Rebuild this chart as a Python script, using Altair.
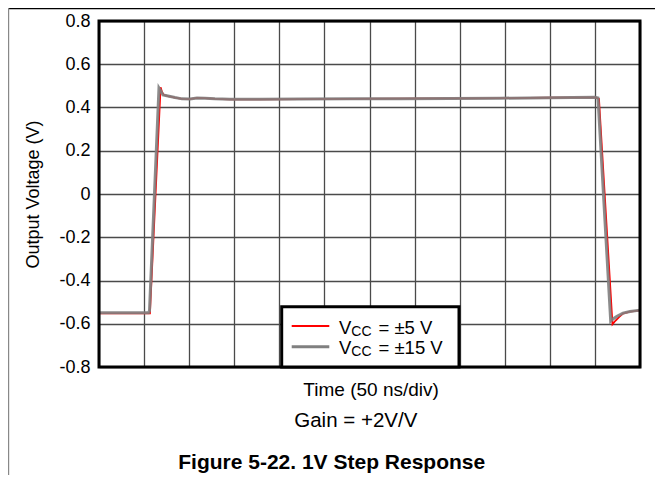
import altair as alt
import pandas as pd

# ---- data (time in ns, 50 ns/div, voltage in V) ----
gray_t = [0, 54.9, 56.0, 66.5, 68.2, 71.0, 76.5, 84.3, 92.0, 100.9, 108.7, 117.6, 128.6,
          145.3, 178.5, 222.9, 278.4, 333.8, 389.3, 444.7, 500.2, 550.1, 553.4,
          567.5, 570.0, 574.5, 581.1, 588.9, 600]
gray_v = [-0.549, -0.549, -0.540, 0.490, 0.478, 0.458, 0.453, 0.446, 0.440, 0.439, 0.444,
          0.443, 0.440, 0.438, 0.438, 0.439, 0.440, 0.441, 0.442, 0.443, 0.445, 0.447,
          0.444, -0.588, -0.578, -0.565, -0.551, -0.543, -0.537]

red_t = [0, 56.5, 68.3, 70.0, 72.0, 76.5, 84.3, 92.0, 100.9, 108.7, 117.6, 128.6,
         145.3, 178.5, 222.9, 278.4, 333.8, 389.3, 444.7, 500.2, 550.1, 554.5,
         569.5, 573.0, 577.0, 581.1, 588.9, 600]
red_v = [-0.552, -0.552, 0.493, 0.470, 0.458, 0.453, 0.446, 0.440, 0.439, 0.444,
         0.443, 0.440, 0.438, 0.438, 0.439, 0.440, 0.441, 0.442, 0.443, 0.445, 0.447,
         0.440, -0.602, -0.585, -0.568, -0.553, -0.544, -0.538]

y_ticks = [-0.8, -0.6, -0.4, -0.2, 0, 0.2, 0.4, 0.6, 0.8]
x_grid = [0, 50, 100, 150, 200, 250, 300, 350, 400, 450, 500, 550, 600]

series_names = ["VCC = ±5 V", "VCC = ±15 V"]
series_colors = ["#ff0000", "#808080"]
legend_rest = ["= ±5 V", "= ±15 V"]

x_title = "Time (50 ns/div)"
y_title = "Output Voltage (V)"
gain_text = "Gain = +2V/V"
caption = "Figure 5-22. 1V Step Response"

FONT = "Liberation Sans"
W, H = 541, 346
PAD = {"left": 91, "top": 13, "right": 15, "bottom": 108}

df_red = pd.DataFrame({"t": red_t, "v": red_v, "s": series_names[0]})
df_gray = pd.DataFrame({"t": gray_t, "v": gray_v, "s": series_names[1]})

x_enc = alt.X("t:Q", scale=alt.Scale(domain=[0, 600], nice=False, zero=False),
              axis=alt.Axis(values=x_grid, labels=False, ticks=False, tickSize=0, domain=False,
                            grid=True, gridColor="#4a4a4a", gridWidth=1.3,
                            title=x_title, titleFont=FONT, titleFontSize=19,
                            titleFontWeight="normal", titleColor="#000",
                            titleBaseline="alphabetic", titleX=271.6, titleY=28.5))
y_enc = alt.Y("v:Q", scale=alt.Scale(domain=[-0.8, 0.8], nice=False, zero=False),
              axis=alt.Axis(values=y_ticks, ticks=False, tickSize=0, domain=False,
                            labelExpr="datum.value == 0 ? '0' : (datum.value < 0 ? '-' : '') + format(abs(datum.value), '.1f')",
                            labelFont=FONT, labelFontSize=18, labelColor="#000", labelPadding=9,
                            grid=True, gridColor="#4a4a4a", gridWidth=1.3,
                            title=y_title, titleFont=FONT, titleFontSize=18,
                            titleFontWeight="normal", titleColor="#000", titleAngle=270,
                            titleBaseline="alphabetic", titleAlign="center",
                            titleX=-60.5, titleY=H / 2))

red_line = alt.Chart(df_red).mark_line(color=series_colors[0], strokeWidth=1.8).encode(
    x=x_enc, y=y_enc)
gray_line = alt.Chart(df_gray).mark_line(color=series_colors[1], strokeWidth=3, opacity=0.9).encode(
    x="t:Q", y="v:Q")

one = pd.DataFrame({"k": [0]})

frame = alt.Chart(one).mark_rect(fill="white", fillOpacity=0, stroke="#000", strokeWidth=3).encode(
    x=alt.value(0), x2=alt.value(W), y=alt.value(0), y2=alt.value(H))

legend_box = alt.Chart(one).mark_rect(fill="white", stroke="#000", strokeWidth=3).encode(
    x=alt.value(182.7), x2=alt.value(360), y=alt.value(285.7), y2=alt.value(H))

leg_red = alt.Chart(one).mark_rule(color=series_colors[0], strokeWidth=2).encode(
    x=alt.value(192.7), x2=alt.value(230.3), y=alt.value(305))
leg_gray = alt.Chart(one).mark_rule(color=series_colors[1], strokeWidth=3).encode(
    x=alt.value(192.7), x2=alt.value(230.3), y=alt.value(325.7))

leg_layers = []
for i, base_y in enumerate([312.5, 332.5]):
    d = pd.DataFrame({"a": ["V"], "b": ["CC"], "c": [legend_rest[i]]})
    leg_layers.append(alt.Chart(d).mark_text(font=FONT, fontSize=18.5, align="left",
                                             baseline="alphabetic", color="#000").encode(
        text="a:N", x=alt.value(240), y=alt.value(base_y)))
    leg_layers.append(alt.Chart(d).mark_text(font=FONT, fontSize=14, align="left",
                                             baseline="alphabetic", color="#000").encode(
        text="b:N", x=alt.value(252.3), y=alt.value(base_y + 2)))
    leg_layers.append(alt.Chart(d).mark_text(font=FONT, fontSize=18.5, align="left",
                                             baseline="alphabetic", color="#000").encode(
        text="c:N", x=alt.value(279.5), y=alt.value(base_y)))

gain = alt.Chart(pd.DataFrame({"txt": [gain_text]})).mark_text(
    font=FONT, fontSize=20.5, align="center", baseline="alphabetic", color="#000").encode(
    text="txt:N", x=alt.value(256.8), y=alt.value(406))

cap = alt.Chart(pd.DataFrame({"txt": [caption]})).mark_text(
    font=FONT, fontSize=21, fontWeight="bold", align="center", baseline="alphabetic",
    color="#000").encode(text="txt:N", x=alt.value(232.7), y=alt.value(448))

top_border = alt.Chart(one).mark_rule(color="#000", strokeWidth=1.2).encode(
    x=alt.value(-PAD["left"]), x2=alt.value(W + PAD["right"]), y=alt.value(-PAD["top"] + 0.6))
left_border = alt.Chart(one).mark_rule(color="#888", strokeWidth=1.2).encode(
    x=alt.value(-PAD["left"] + 0.6), y=alt.value(-PAD["top"]), y2=alt.value(H + PAD["bottom"]))

chart = alt.layer(
    red_line, gray_line, frame, legend_box, leg_red, leg_gray, *leg_layers,
    gain, cap, top_border, left_border
).properties(
    width=W, height=H, padding=PAD, autosize="none", background="white"
).configure_view(stroke=None).configure(font=FONT)

chart.save("out.html", embed_options={"renderer": "svg", "actions": False})
